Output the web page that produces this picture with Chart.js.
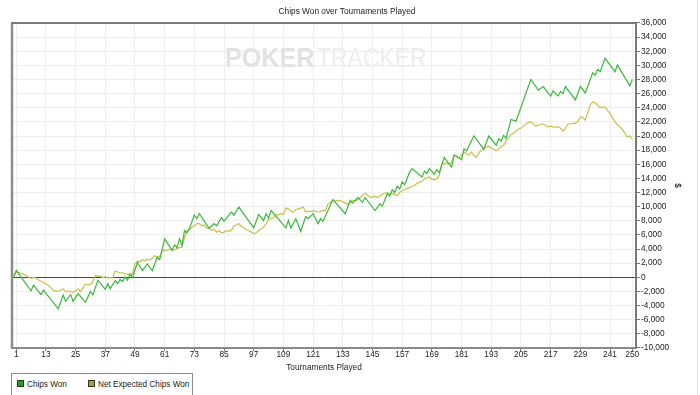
<!DOCTYPE html>
<html>
<head>
<meta charset="utf-8">
<script src="https://cdn.jsdelivr.net/npm/chart.js@4.4.1/dist/chart.umd.min.js"></script>
<style>
html,body{margin:0;padding:0;background:#fff;}
#wrap{position:relative;width:700px;height:395px;overflow:hidden;background:#fff;}
#c{position:absolute;left:0;top:0;}
#edge{position:absolute;left:697px;top:0;width:1px;height:395px;background:#e4e4e4;}
#legend{position:absolute;left:11px;top:373px;width:180px;height:30px;border:1px solid #8a8a8a;
  font-family:"Liberation Sans",Arial,sans-serif;font-size:8.2px;color:#222;background:#fff;}
#legend .item{position:absolute;top:6px;white-space:nowrap;line-height:9px;}
#legend .sw{display:inline-block;width:5px;height:5px;border:1px solid #333;vertical-align:0px;margin-right:3px;}
</style>
</head>
<body>
<div id="wrap">
<canvas id="c" width="700" height="395"></canvas>
<div id="legend"></div>
<div id="edge"></div>
</div>
<script>
// ---- data ----
const TITLE = 'Chips Won over Tournaments Played';
const X_TITLE = 'Tournaments Played';
const Y_TITLE = '$';
const X_TICK_LABELS = [1,13,25,37,49,61,73,85,97,109,121,133,145,157,169,181,193,205,217,229,241,250];
const Y_MIN = -10000, Y_MAX = 36000, Y_STEP = 2000;

// Chips Won: tournament numbers of the turning points and the value there
const chipsWonT = [
  0,1,7,8,11,12,18,20,21,23,
  24,26,29,31,32,34,37,38,39,41,
  42,43,44,45,46,47,48,50,52,54,
  56,58,59,61,64,65,66,67,68,69,
  70,71,73,74,75,79,81,82,84,85,
  88,89,91,97,99,101,102,103,104,110,
  111,112,114,116,118,119,121,123,124,125,
  127,129,134,136,137,139,141,142,146,148,
  149,151,152,153,154,155,156,157,158,160,
  161,165,166,167,168,170,171,172,174,177,
  178,181,182,183,186,190,192,195,196,197,
  198,199,201,203,209,212,214,217,218,220,
  221,222,223,227,229,231,234,235,236,237,
  239,243,244,249,250
];
const chipsWonV = [
  0,1000,-1900,-1100,-2450,-1800,-4450,-2500,-3400,-2450,
  -3400,-2300,-3500,-2000,-2500,-400,-1700,-900,-1600,-450,
  -900,-300,-600,100,-400,500,0,2100,950,1900,
  950,2850,2500,5450,3800,4600,4200,5450,4500,6600,
  6300,6900,8800,8300,9000,6950,7600,7300,8450,7950,
  9250,8800,9950,7000,8900,8050,9000,8400,9450,7000,
  8050,7000,8300,6500,8600,8300,9000,7600,8300,7900,
  9450,11000,9000,10900,10500,11300,10650,11300,9450,10400,
  10100,11850,11500,12400,12000,12900,12500,13500,13100,14900,
  15400,14200,15000,14700,15400,14600,15250,14800,16950,15600,
  17300,16650,18200,17900,20000,18100,20000,18700,19600,19300,
  20100,19700,22350,22100,28000,26500,27000,25650,26400,25650,
  26300,26000,27000,25100,27000,26100,28950,28600,29450,29100,
  31000,29100,30050,27100,28000
];

// Net Expected Chips Won: one value per tournament, 0..250
const netExpectedV = [
  0,800,700,550,450,250,0,-150,0,-100,
  -350,-550,-700,-900,-1150,-1500,-1850,-1950,-2000,-1800,
  -1650,-2050,-1900,-2000,-2150,-1900,-1650,-2000,-1500,-950,
  -1100,-1000,-600,250,150,200,-50,100,-100,0,
  -100,900,750,600,650,500,450,350,500,1900,
  2300,2200,2500,2300,2600,2450,2700,3050,2850,3000,
  3600,3900,3800,4000,4000,3900,4100,4200,4250,5600,
  6600,6700,7100,7300,7600,7600,7300,7400,7000,6900,
  6650,6800,6400,6600,6300,6400,6600,6500,6650,7300,
  7400,7600,7200,7000,6700,6600,6400,6200,6300,6600,
  6900,7100,7600,8200,8300,8400,8900,8800,9000,8900,
  9800,9700,9400,9200,9600,9700,9800,9950,9250,9400,
  9300,9400,9350,9250,9300,9500,9450,10400,10600,10900,
  10800,10900,10850,10700,10500,10300,10600,10900,10800,11000,
  11300,11600,11900,11700,11300,11400,11450,11300,11500,11800,
  11900,12000,11800,11900,11700,11600,12000,12300,12400,12600,
  12700,12900,13000,13300,13500,13600,13900,14100,14200,13900,
  13800,14000,14400,16100,16000,16200,16000,16300,17300,17200,
  16900,17300,17750,17500,17300,17750,17200,17000,17600,18000,
  18300,18400,18600,18300,18100,17900,18200,18500,18700,19300,
  19800,20200,20400,20700,21000,21100,21400,21700,21900,22000,
  21700,21400,21500,21700,21700,21500,21300,21400,21300,21250,
  21300,21100,20700,21100,21700,21700,21800,21800,22100,22700,
  22600,22250,23300,24400,24800,24700,24400,24000,24100,24100,
  23600,23200,22600,22000,21600,21300,20900,20400,19900,20000,
  19600
];

const SERIES = [
  {label:'Chips Won', line:'#3cb93c', swatch:'#1e9e1e'},
  {label:'Net Expected Chips Won', line:'#c9bf4a', swatch:'#a9a11c'}
];

// ---- chart ----
const FONT = {family:'"Liberation Sans", Arial, sans-serif', size:8.3, weight:'normal'};

const chipsWonData = chipsWonT.map((t,i)=>({x:t, y:chipsWonV[i]}));
const netData = netExpectedV.map((v,i)=>({x:i, y:v}));

const watermark = {
  id:'watermark',
  beforeDatasetsDraw(chart){
    const ctx = chart.ctx;
    ctx.save();
    ctx.textBaseline = 'alphabetic';
    ctx.fillStyle = '#e2e2e2';
    ctx.font = 'bold 27px "Liberation Sans", Arial, sans-serif';
    ctx.save();
    ctx.translate(225, 66.5);
    ctx.scale(0.93, 1);
    ctx.fillText('POKER', 0, 0);
    ctx.restore();
    ctx.fillStyle = '#ededed';
    ctx.font = '27px "Liberation Sans", Arial, sans-serif';
    ctx.translate(317, 66.5);
    ctx.scale(0.85, 1);
    ctx.fillText('TRACKER', 0, 0);
    ctx.restore();
  }
};

const frame = {
  id:'frame',
  afterDraw(chart){
    const a = chart.chartArea, ctx = chart.ctx;
    ctx.save();
    ctx.strokeStyle = '#8c8c8c';
    ctx.lineWidth = 2.5;
    ctx.beginPath(); ctx.moveTo(a.left, a.top); ctx.lineTo(a.left, a.bottom+1); ctx.stroke();
    ctx.strokeStyle = '#7a7a7a';
    ctx.lineWidth = 2;
    ctx.beginPath(); ctx.moveTo(a.left-1, a.top); ctx.lineTo(a.right+1, a.top); ctx.stroke();
    ctx.restore();
  }
};

const chart = new Chart(document.getElementById('c'), {
  type:'line',
  data:{datasets:[
    {label:SERIES[0].label, data:chipsWonData, borderColor:SERIES[0].line, backgroundColor:SERIES[0].swatch,
     borderWidth:1.2, pointRadius:0, tension:0, fill:false},
    {label:SERIES[1].label, data:netData, borderColor:SERIES[1].line, backgroundColor:SERIES[1].swatch,
     borderWidth:1.2, pointRadius:0, tension:0, fill:false}
  ]},
  options:{
    responsive:false, animation:false, events:[],
    layout:{padding:{left:12,right:18,top:0,bottom:22}},
    plugins:{
      legend:{display:false},
      tooltip:{enabled:false},
      title:{display:true, text:TITLE, font:FONT, color:'#222', padding:{top:7,bottom:6}}
    },
    scales:{
      x:{
        type:'linear', min:-0.7, max:251.5,
        afterBuildTicks(s){ s.ticks = X_TICK_LABELS.map(v=>({value:v})); },
        afterFit(s){ s.height = 25; },
        grid:{color:'#eeeeee', lineWidth:1, tickLength:3, tickColor:'#777'},
        border:{display:true, color:'#8a8a8a', width:2},
        ticks:{font:FONT, color:'#222', padding:-1, maxRotation:0, autoSkip:false},
        title:{display:true, text:X_TITLE, font:FONT, color:'#222', padding:{top:0,bottom:0}}
      },
      y:{
        position:'right', min:Y_MIN, max:Y_MAX,
        afterFit(s){ s.width = 46; },
        grid:{color:c=> (c.tick && c.tick.value===0) ? '#444' : '#eeeeee', lineWidth:1, tickLength:4, tickColor:'#777'},
        border:{display:true, color:'#7a7a7a', width:2},
        ticks:{stepSize:Y_STEP, font:FONT, color:'#222', padding:1,
               callback:v=>Number(v).toLocaleString('en-US')},
        title:{display:true, text:Y_TITLE, font:{family:FONT.family, size:8.3, weight:'bold'}, color:'#333', padding:0}
      }
    }
  },
  plugins:[watermark, frame]
});

// legend built from the datasets
const leg = document.getElementById('legend');
const lefts = [5, 76];
chart.data.datasets.forEach((d,i)=>{
  const it = document.createElement('div');
  it.className = 'item';
  it.style.left = lefts[i] + 'px';
  it.innerHTML = '<span class="sw" style="background:'+d.backgroundColor+'"></span>' + d.label;
  leg.appendChild(it);
});
</script>
</body>
</html>
